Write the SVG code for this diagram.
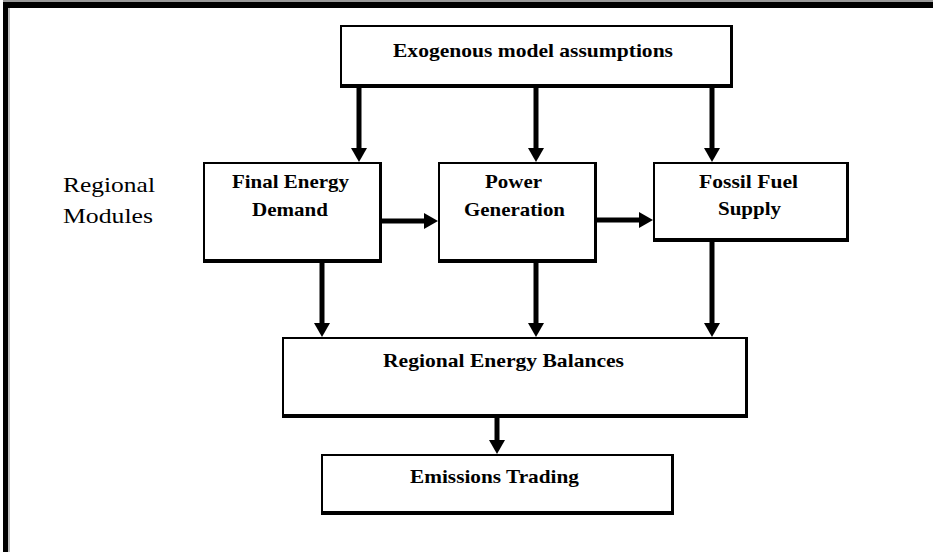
<svg xmlns="http://www.w3.org/2000/svg" width="933" height="552" viewBox="0 0 933 552">
  <style>
    .box { fill: #ffffff; stroke: #000000; stroke-width: 2; }
    .shade { fill: none; stroke: #000000; }
    .label { font-family: "Liberation Serif", "Times New Roman", serif; font-weight: bold; font-size: 19px; fill: #000000; text-anchor: middle; }
    .side { font-family: "Liberation Serif", "Times New Roman", serif; font-size: 21px; fill: #000000; }
    .conn { stroke: #000000; stroke-width: 5; fill: none; marker-end: url(#head); }
  </style>
  <defs>
    <marker id="head" markerUnits="userSpaceOnUse" viewBox="0 0 14 16" markerWidth="14" markerHeight="16" refX="4" refY="8" orient="auto">
      <path d="M0,0 L14,8 L0,16 Z" fill="#000000"/>
    </marker>
  </defs>

  <!-- page frame: heavy top and left rules -->
  <rect x="0" y="0" width="933" height="552" fill="#ffffff"/>
  <rect x="3" y="0" width="930" height="2" fill="#9a9a9a"/>
  <rect x="3" y="2" width="930" height="6" fill="#000000"/>
  <rect x="3" y="2" width="5" height="550" fill="#000000"/>
  <rect x="8" y="8" width="2" height="544" fill="#bdbdbd"/>

  <!-- side caption -->
  <g id="regional-modules">
    <text class="side" x="63" y="192" textLength="92" lengthAdjust="spacingAndGlyphs">Regional</text>
    <text class="side" x="63" y="223" textLength="90" lengthAdjust="spacingAndGlyphs">Modules</text>
  </g>

  <!-- connectors -->
  <g id="connectors">
    <line class="conn" x1="359" y1="88" x2="359" y2="152"/>
    <line class="conn" x1="536" y1="88" x2="536" y2="152"/>
    <line class="conn" x1="712" y1="88" x2="712" y2="152"/>
    <line class="conn" x1="382" y1="221" x2="428" y2="221"/>
    <line class="conn" x1="597" y1="220" x2="643" y2="220"/>
    <line class="conn" x1="322" y1="263" x2="322" y2="327"/>
    <line class="conn" x1="536" y1="263" x2="536" y2="327"/>
    <line class="conn" x1="712" y1="242" x2="712" y2="327"/>
    <line class="conn" x1="497" y1="418" x2="497" y2="444"/>
  </g>

  <g id="exogenous">
    <rect class="box" x="341" y="26" width="390" height="59"/>
    <path class="shade" stroke-width="4" d="M340,86 H733"/>
    <path class="shade" stroke-width="3" d="M731.5,25 V88"/>
    <text class="label" x="533" y="57" textLength="280" lengthAdjust="spacingAndGlyphs">Exogenous model assumptions</text>
  </g>

  <g id="final-energy-demand">
    <rect class="box" x="204" y="163" width="176" height="97"/>
    <path class="shade" stroke-width="4" d="M203,261 H382"/>
    <path class="shade" stroke-width="3" d="M380.5,162 V263"/>
    <text class="label" x="290.5" y="188" textLength="117" lengthAdjust="spacingAndGlyphs">Final Energy</text>
    <text class="label" x="290" y="216" textLength="76" lengthAdjust="spacingAndGlyphs">Demand</text>
  </g>

  <g id="power-generation">
    <rect class="box" x="439" y="163" width="156" height="97"/>
    <path class="shade" stroke-width="4" d="M438,261 H597"/>
    <path class="shade" stroke-width="3" d="M595.5,162 V263"/>
    <text class="label" x="513.5" y="188" textLength="57" lengthAdjust="spacingAndGlyphs">Power</text>
    <text class="label" x="514.5" y="216" textLength="101" lengthAdjust="spacingAndGlyphs">Generation</text>
  </g>

  <g id="fossil-fuel-supply">
    <rect class="box" x="654" y="163" width="193" height="76"/>
    <path class="shade" stroke-width="4" d="M653,240 H849"/>
    <path class="shade" stroke-width="3" d="M847.5,162 V242"/>
    <text class="label" x="748.5" y="188" textLength="99" lengthAdjust="spacingAndGlyphs">Fossil Fuel</text>
    <text class="label" x="749.5" y="215" textLength="63" lengthAdjust="spacingAndGlyphs">Supply</text>
  </g>

  <g id="regional-energy-balances">
    <rect class="box" x="283" y="338" width="463" height="77"/>
    <path class="shade" stroke-width="4" d="M282,416 H748"/>
    <path class="shade" stroke-width="3" d="M746.5,337 V418"/>
    <text class="label" x="503.5" y="367" textLength="241" lengthAdjust="spacingAndGlyphs">Regional Energy Balances</text>
  </g>

  <g id="emissions-trading">
    <rect class="box" x="322" y="455" width="350" height="57"/>
    <path class="shade" stroke-width="4" d="M321,513 H674"/>
    <path class="shade" stroke-width="3" d="M672.5,454 V515"/>
    <text class="label" x="494.5" y="483" textLength="169" lengthAdjust="spacingAndGlyphs">Emissions Trading</text>
  </g>
</svg>
